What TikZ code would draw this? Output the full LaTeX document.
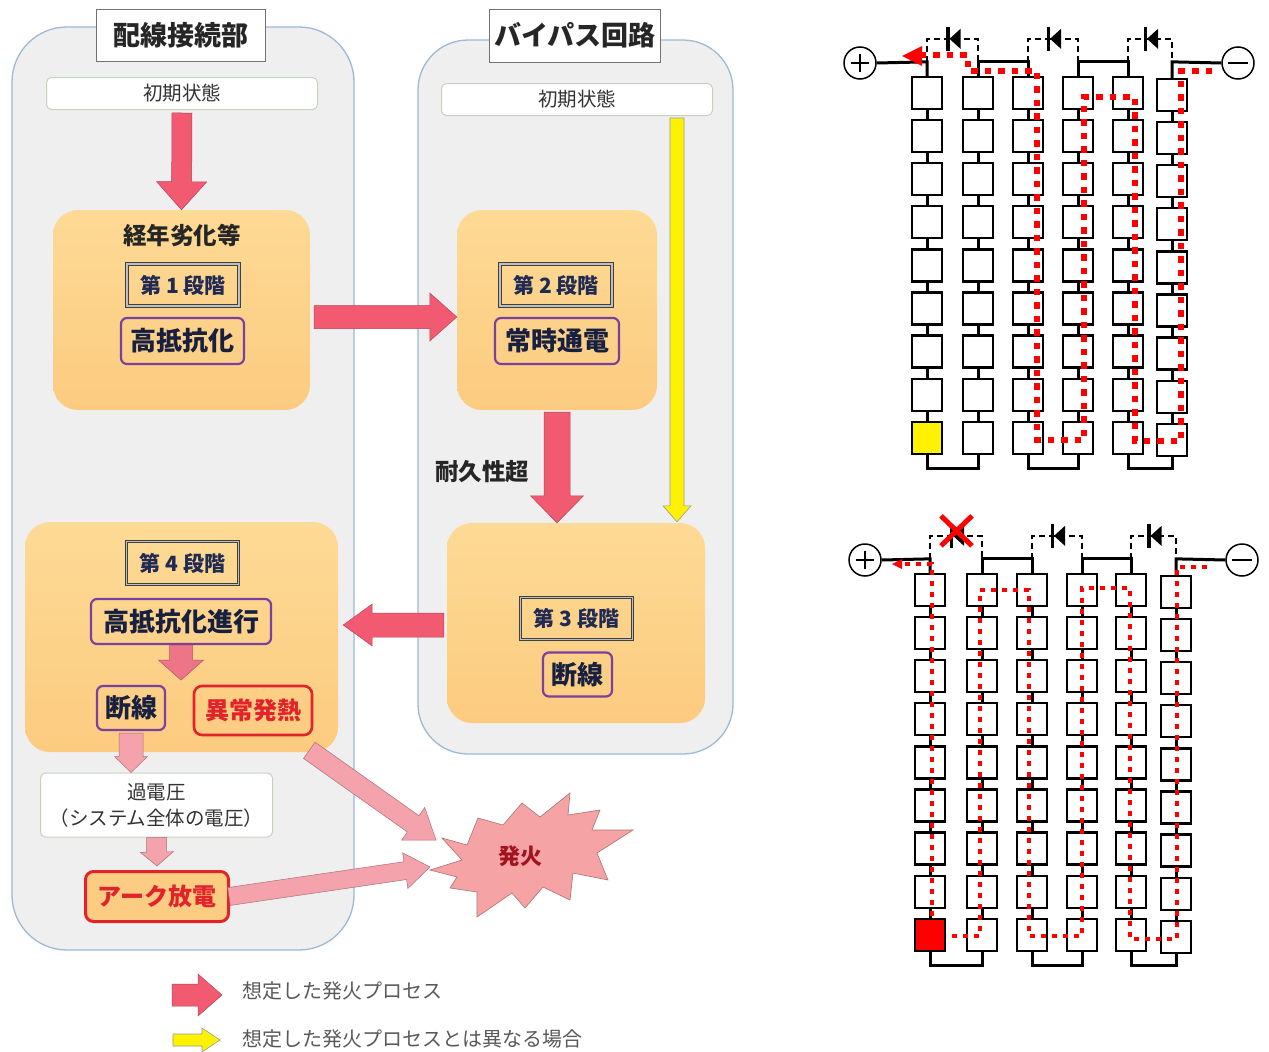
\documentclass[tikz,border=0pt]{standalone}
\usepackage{fontspec}
\setmainfont{Noto Sans CJK JP}
\usetikzlibrary{calc}

\definecolor{boxgray}{HTML}{EFEFEF}
\definecolor{boxedge}{HTML}{9DB9D5}
\definecolor{orangetop}{HTML}{FDDA95}
\definecolor{orangebot}{HTML}{FCCB80}
\definecolor{arrowred}{HTML}{F25A72}
\definecolor{arrowmid}{HTML}{EE7488}
\definecolor{arrowpink}{HTML}{F4A2AC}
\definecolor{burstfill}{HTML}{F5A3A5}
\definecolor{navy}{HTML}{1F2A55}
\definecolor{purpleedge}{HTML}{7B3F9E}
\definecolor{rededge}{HTML}{E3232B}
\definecolor{initedge}{HTML}{C5D3BE}
\definecolor{firetext}{HTML}{A3121F}

% block arrow: #1 style, #2 start, #3 tip, #4 shaft half width, #5 head half width, #6 head length
\newcommand\blockarrow[6]{%
  \coordinate (ba-h) at ($(#3)!#6!(#2)$);
  \path[#1] ($(#2)!#4!90:(#3)$) -- ($(ba-h)!#4!-90:(#2)$) -- ($(ba-h)!#5!-90:(#2)$)
    -- (#3) -- ($(ba-h)!#5!90:(#2)$) -- ($(ba-h)!#4!90:(#2)$) -- ($(#2)!#4!-90:(#3)$) -- cycle;}

% grid of 6 strings x 9 cells: #1 prefix, #2 col/x/dy list, #3 first-row centre y
\newcommand\cellgrid[3]{%
  \foreach \c/\x/\dy in {#2} {
    \foreach \r in {1,...,9} {
      \node[cell] (#1-\c-\r) at (\x, {#3+\dy+43.1*(\r-1)}) {};
    }
    \foreach \r [evaluate=\r as \n using int(\r+1)] in {1,...,8} {
      \draw[wire] (#1-\c-\r.south) -- (#1-\c-\n.north);
    }
  }}

% wiring of one panel: series links, bottom loops, bypass diodes
\newcommand\panelwires[1]{%
  \coordinate (#1-t1) at ([yshift=14pt]#1-1-1.north);
  \foreach \c in {2,...,6} {\coordinate (#1-t\c) at (#1-\c-1.north |- #1-t1);}
  \draw[wire] (#1-plus.east) -- (#1-t1) -- (#1-1-1.north);
  \draw[wire] (#1-2-1.north) -- (#1-t2) -- (#1-t3) -- (#1-3-1.north);
  \draw[wire] (#1-4-1.north) -- (#1-t4) -- (#1-t5) -- (#1-5-1.north);
  \draw[wire] (#1-6-1.north) -- (#1-t6) -- (#1-minus.west);
  \foreach \a/\b in {1/2,3/4,5/6} {
    \draw[wire] (#1-\a-9.south) -- ++(0,14) -| (#1-\b-9.south);
  }
  \foreach \a/\b/\k in {1/2/1,3/4/2,5/6/3} {
    \draw[bypass] (#1-t\a) -- ++(0,-23) -| (#1-t\b);
    \coordinate (#1-d\k) at ($(#1-t\a)!0.5!(#1-t\b)+(0,-23)$);
    \fill (#1-d\k) ++(-3,0) -- ++(11,-10) -- ++(0,20) -- cycle;
    \draw[line width=3.5pt] (#1-d\k) ++(-4.5,-12) -- ++(0,24);
  }
  \draw[line width=1.5pt] (#1-plus.center) ++(-9,0) -- ++(18,0) (#1-plus.center) ++(0,-9) -- ++(0,18);
  \draw[line width=1.5pt] (#1-minus.center) ++(-10,0) -- ++(20,0);
}

\begin{document}
\begin{tikzpicture}[x=1pt,y=-1pt,
  container/.style={draw=boxedge, line width=1.3pt, fill=boxgray, inner sep=0pt},
  titlebox/.style={draw=black!55, fill=white, line width=1pt, inner sep=0pt,
    font=\fontsize{27}{30}\selectfont\bfseries, text=black!85},
  initbox/.style={draw=initedge, fill=white, rounded corners=5pt, line width=1pt, inner sep=0pt,
    font=\fontsize{19.5}{22}\selectfont, text=black!80},
  stagebox/.style={rounded corners=25pt, top color=orangetop, bottom color=orangebot, inner sep=0pt},
  stepbox/.style={draw=black!75, double=gray!50, double distance=1.6pt, line width=1pt, inner sep=0pt,
    minimum width=112pt, minimum height=42pt, font=\fontsize{21}{24}\selectfont\bfseries, text=navy},
  statebox/.style={draw=purpleedge, line width=2.2pt, rounded corners=6pt, inner sep=0pt,
    font=\fontsize{26}{28}\selectfont\bfseries, text=navy!75!black},
  hotbox/.style={draw=rededge, line width=2.6pt, rounded corners=8pt, inner sep=0pt,
    font=\fontsize{24}{26}\selectfont\bfseries, text=rededge},
  plain/.style={font=\fontsize{#1}{#1}\selectfont\bfseries, text=black!85, inner sep=0pt},
  redarrow/.style={fill=arrowred, draw=arrowred!75!black, line width=0.5pt},
  midarrow/.style={fill=arrowmid, draw=arrowmid!75!black, line width=0.5pt},
  pinkarrow/.style={fill=arrowpink, draw=arrowpink!70!black, line width=0.5pt},
  yellowarrow/.style={fill=yellow, draw=black!40, line width=0.6pt},
  cell/.style={draw, line width=2.3pt, fill=white, minimum width=30pt, minimum height=32pt, inner sep=0pt},
  wire/.style={line width=3pt},
  bypass/.style={line width=2.4pt, dash pattern=on 6pt off 4pt},
  terminal/.style={circle, draw, line width=1.5pt, minimum size=32pt, inner sep=0pt},
  current/.style={red, line width=6.5pt, dash pattern=on 6.5pt off 7pt},
  currentsmall/.style={red, line width=4.8pt, dash pattern=on 4.8pt off 6.2pt},
  legendtext/.style={font=\fontsize{20}{22}\selectfont, text=black!65, inner sep=0pt, anchor=west}]

\useasboundingbox (0,0) rectangle (1269,1052);
\fill[white] (0,0) rectangle (1269,1052);

% ---------- two process columns ----------
\node[container, rounded corners=55pt, minimum width=342pt, minimum height=923pt] (wiring) at (183,488.5) {};
\node[container, rounded corners=50pt, minimum width=315pt, minimum height=714pt] (bypass) at (575.5,397) {};
\node[titlebox, minimum width=169pt, minimum height=52pt] (title-w) at (181,35.5) {配線接続部};
\node[titlebox, minimum width=171pt, minimum height=53pt] (title-b) at (575,35.5) {バイパス回路};
\node[initbox, minimum width=271pt, minimum height=32pt] (init-w) at (182,93.5) {初期状態};
\node[initbox, minimum width=271pt, minimum height=32pt] (init-b) at (577,99.5) {初期状態};

% stage panels
\node[stagebox, minimum width=257pt, minimum height=200pt] (st1) at (181.5,310) {};
\node[stagebox, minimum width=200pt, minimum height=200pt] (st2) at (557,310) {};
\node[stagebox, minimum width=258pt, minimum height=200pt] (st3) at (576,623) {};
\node[stagebox, minimum width=313pt, minimum height=230pt] (st4) at (181.5,637) {};

\node[plain=23.5] (aging) at (182,235) {経年劣化等};
\node[stepbox] (step1) at (183,285) {第 1 段階};
\node[statebox, minimum width=123pt, minimum height=46pt] (hk1) at (182.5,341) {高抵抗化};
\node[stepbox] (step2) at (556,285) {第 2 段階};
\node[statebox, minimum width=124pt, minimum height=46pt] (jt2) at (557,341) {常時通電};
\node[stepbox] (step3) at (576.5,618.5) {第 3 段階};
\node[statebox, minimum width=69pt, minimum height=44pt] (dan3) at (577.5,674.5) {断線};
\node[stepbox, minimum height=43pt] (step4) at (182.5,563) {第 4 段階};
\node[statebox, minimum width=180pt, minimum height=45pt] (hk4) at (181,621.5) {高抵抗化進行};
\node[statebox, minimum width=68pt, minimum height=44pt] (dan4) at (131,708) {断線};
\node[hotbox, minimum width=118pt, minimum height=49pt] (ijo) at (253,710.5) {異常発熱};
\node[initbox, minimum width=232pt, minimum height=64pt, align=center,
  font=\fontsize{19.5}{26}\selectfont] (kaden) at (156.5,805) {過電圧\\（システム全体の電圧）};
\node[hotbox, fill=orangebot!90!orangetop, line width=3pt, minimum width=143pt, minimum height=50pt] (arc) at (157,896.5) {アーク放電};
\node[plain=23.5] (taikyu) at (482,472) {耐久性超};

% fire starburst
\draw[fill=burstfill, draw=burstfill!70!black, line width=0.6pt]
  (442,838) -- (467,845) -- (478,818) -- (503,825) -- (522,803) -- (540,817) -- (570,793)
  -- (568,815) -- (600,810) -- (592,830) -- (633,830) -- (597,853) -- (608,880) -- (573,873)
  -- (570,900) -- (543,887) -- (525,908) -- (512,893) -- (477,917) -- (477,892) -- (450,888)
  -- (457,877) -- (430,870) -- (462,860) -- cycle;
\node[font=\fontsize{22}{22}\selectfont\bfseries, text=firetext] (fire) at (520,856) {発火};
\coordinate (fire-in1) at (436,840);
\coordinate (fire-in2) at (430,867);

% process arrows
\coordinate (a0s) at ([yshift=-3pt]init-w.south);
\blockarrow{redarrow}{a0s}{st1.north}{10pt}{25pt}{28pt}
\coordinate (a1s) at ([shift={(4pt,-7pt)}]st1.east);
\coordinate (a1e) at ([yshift=-7pt]st2.west);
\blockarrow{redarrow}{a1s}{a1e}{11.5pt}{24pt}{27pt}
\coordinate (a2s) at ([yshift=-2pt]st2.south);
\coordinate (a2e) at (a2s |- st3.north);
\blockarrow{redarrow}{a2s}{a2e}{13pt}{26.5pt}{27pt}
\coordinate (ays) at ([shift={(-36pt,-2pt)}]init-b.south east);
\coordinate (aye) at ([yshift=1pt]ays |- st3.north);
\blockarrow{yellowarrow}{ays}{aye}{7pt}{14pt}{16pt}
\coordinate (a3s) at ([shift={(-3pt,-2pt)}]st3.west);
\coordinate (a3e) at ([xshift=5pt]a3s -| st4.east);
\blockarrow{redarrow}{a3s}{a3e}{12pt}{21pt}{29pt}
\coordinate (a4e) at ([yshift=-35pt]hk4.south);
\blockarrow{midarrow}{hk4.south}{a4e}{11.5pt}{22.5pt}{20pt}
\coordinate (a5s) at ([yshift=-2pt]dan4.south);
\coordinate (a5e) at (a5s |- kaden.north);
\blockarrow{pinkarrow}{a5s}{a5e}{12pt}{16.5pt}{16pt}
\coordinate (a6e) at ([yshift=4pt]arc.north);
\blockarrow{pinkarrow}{kaden.south}{a6e}{10pt}{16.5pt}{14pt}
\coordinate (a7s) at ([shift={(-4pt,-14pt)}]ijo.south east);
\blockarrow{pinkarrow}{a7s}{fire-in1}{10pt}{20pt}{28pt}
\coordinate (a8s) at ([xshift=-1pt]arc.east);
\blockarrow{pinkarrow}{a8s}{fire-in2}{9pt}{18pt}{25pt}

% legend
\coordinate (lg1s) at (172,995); \coordinate (lg1e) at (222,995);
\blockarrow{redarrow}{lg1s}{lg1e}{11pt}{21pt}{24pt}
\coordinate (lg2s) at (173,1040); \coordinate (lg2e) at (220,1040);
\blockarrow{yellowarrow}{lg2s}{lg2e}{6pt}{12pt}{18pt}
\node[legendtext] (lg1) at (242,991) {想定した発火プロセス};
\node[legendtext] (lg2) at (242,1039) {想定した発火プロセスとは異なる場合};

% ---------- module strings, normal bypass operation ----------
\node[terminal] (a-plus) at (860,63) {};
\node[terminal] (a-minus) at (1238,63) {};
\cellgrid{a}{1/927/0,2/978/0,3/1028/0,4/1078/0,5/1128/0,6/1172/2}{93}
\panelwires{a}
\node[cell, fill=yellow] (a-hot) at (a-1-9) {};
\draw[current] (1212,71) -- (1181,71) -- (1181,441) -- (1135,441) -- (1135,97) -- (1084,97)
  -- (1084,440) -- (1037,440) -- (1037,71) -- (968,71) -- (968,55) -- (922,55);
\fill[red] (922,46) -- (902,56) -- (922,66) -- cycle;

% ---------- module strings, failed bypass diode ----------
\node[terminal] (b-plus) at (865,560) {};
\node[terminal] (b-minus) at (1242,560) {};
\cellgrid{b}{1/930/0,2/982/0,3/1032/0,4/1082/0,5/1131/0,6/1176/2}{590}
\panelwires{b}
\node[cell, fill=red] (b-hot) at (b-1-9) {};
\draw[red, line width=5pt] ($(b-d1)+(-15,-20)$) -- ($(b-d1)+(16,10)$)
  ($(b-d1)+(16,-20)$) -- ($(b-d1)+(-15,10)$);
\draw[currentsmall] (1207,567) -- (1177,567) -- (1177,939) -- (1130,939) -- (1130,588) -- (1082,588)
  -- (1082,936) -- (1029,936) -- (1029,590) -- (980,590) -- (980,936) -- (946,936);
\draw[currentsmall] (932,916) -- (932,564) -- (902,564);
\fill[red] (902,559) -- (892,564) -- (902,569) -- cycle;
\end{tikzpicture}
\end{document}
